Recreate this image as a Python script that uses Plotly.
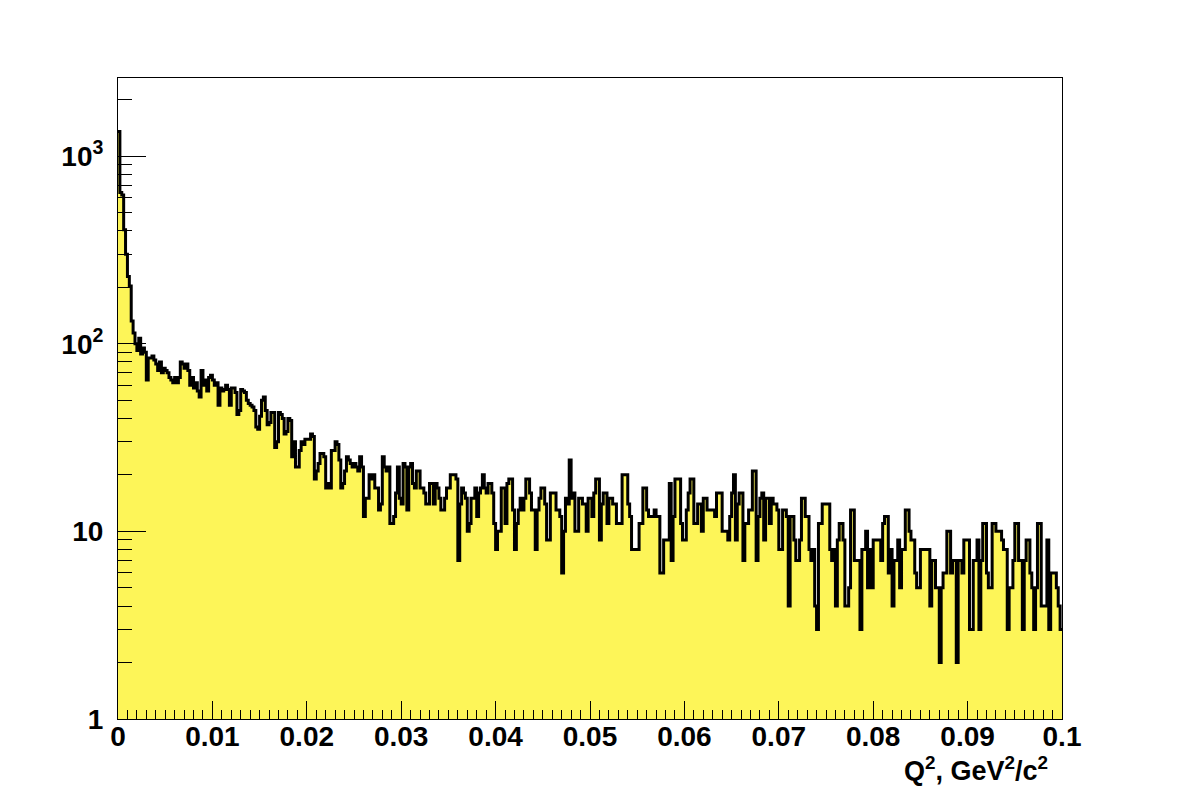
import numpy as np
import plotly.graph_objects as go

# ---------------- data ----------------
x_min = 0.0
x_max = 0.1
n_bins = 500

counts = [
    # 0.000 - 0.010
    1350, 640, 620, 405, 300, 228, 203, 132, 114, 100,
    92, 107, 88, 95, 90, 64, 84, 84, 86, 82,
    78, 72, 80, 70, 74, 72, 70, 66, 64, 62,
    66, 62, 66, 80, 78, 74, 78, 72, 60, 66,
    58, 62, 56, 52, 72, 60, 64, 56, 66, 68,
    # 0.010 - 0.020
    64, 60, 62, 47, 58, 56, 57, 60, 57, 47,
    58, 58, 55, 42, 44, 57, 56, 55, 50, 48,
    47, 46, 44, 36, 35, 41, 50, 52, 44, 37,
    38, 43, 43, 28, 30, 43, 42, 40, 33, 34,
    40, 39, 25, 30, 22, 22, 27, 30, 29, 31,
    # 0.020 - 0.030
    31, 31, 33, 32, 19, 21, 23, 26, 26, 25,
    17, 18, 17, 27, 27, 30, 29, 24, 17, 18,
    21, 25, 24, 23, 22, 23, 22, 21, 25, 22,
    12, 15, 15, 20, 19, 20, 17, 17, 13, 14,
    25, 22, 21, 22, 11, 11, 12, 16, 22, 15,
    # 0.030 - 0.040
    14, 23, 22, 13, 22, 23, 18, 17, 21, 21,
    17, 17, 16, 14, 14, 18, 18, 14, 18, 17,
    15, 13, 13, 15, 17, 17, 20, 20, 20, 19,
    7, 14, 17, 16, 15, 10, 11, 15, 15, 17,
    12, 16, 17, 20, 17, 16, 18, 18, 16, 11,
    # 0.040 - 0.050
    8, 10, 10, 17, 17, 11, 18, 19, 19, 13,
    8, 11, 13, 15, 13, 15, 19, 19, 16, 13,
    13, 8, 13, 15, 17, 17, 14, 9, 9, 16,
    16, 16, 13, 13, 12, 6, 10, 15, 14, 24,
    15, 16, 10, 10, 15, 15, 14, 14, 10, 15,
    # 0.050 - 0.060
    15, 12, 16, 19, 19, 9, 14, 16, 16, 11,
    15, 15, 14, 14, 11, 11, 11, 20, 20, 20,
    14, 12, 8, 8, 8, 8, 11, 11, 17, 17,
    13, 12, 12, 12, 13, 12, 12, 6, 6, 9,
    9, 9, 18, 7, 12, 19, 19, 19, 11, 9,
    # 0.060 - 0.070
    9, 13, 16, 19, 19, 11, 11, 14, 14, 10,
    15, 15, 13, 13, 13, 13, 12, 16, 16, 16,
    10, 10, 10, 9, 12, 16, 20, 9, 14, 16,
    16, 7, 11, 11, 13, 13, 21, 21, 7, 12,
    15, 16, 9, 15, 15, 11, 15, 14, 14, 13,
    # 0.070 - 0.080
    8, 8, 13, 13, 12, 4, 12, 12, 9, 7,
    7, 9, 15, 15, 12, 12, 8, 7, 8, 4,
    3, 11, 11, 14, 14, 14, 14, 8, 7, 8,
    4, 9, 11, 11, 9, 4, 4, 5, 13, 13,
    7, 7, 7, 3, 8, 8, 10, 5, 8, 5,
    # 0.080 - 0.090
    9, 9, 9, 9, 7, 11, 12, 12, 6, 8,
    4, 7, 7, 9, 5, 8, 8, 13, 13, 10,
    9, 9, 6, 5, 5, 8, 8, 8, 8, 8,
    4, 7, 7, 5, 5, 2, 5, 6, 6, 10,
    10, 6, 7, 7, 2, 7, 7, 6, 9, 9,
    # 0.090 - 0.100
    9, 3, 3, 7, 7, 9, 3, 7, 11, 11,
    6, 5, 5, 11, 11, 10, 10, 10, 9, 8,
    8, 3, 5, 5, 7, 11, 11, 7, 7, 3,
    7, 9, 9, 6, 5, 3, 5, 11, 11, 4,
    4, 4, 9, 3, 6, 6, 6, 5, 4, 3,
]

x_tick_vals = [0.0, 0.01, 0.02, 0.03, 0.04, 0.05, 0.06, 0.07, 0.08, 0.09, 0.1]
x_tick_text = ["0", "0.01", "0.02", "0.03", "0.04", "0.05", "0.06", "0.07", "0.08", "0.09", "0.1"]
y_tick_vals = [1, 10, 100, 1000]
y_tick_text = ["1", "10", "10<sup>2</sup>", "10<sup>3</sup>"]
y_minor_vals = [m * 10 ** e for e in range(0, 4) for m in range(2, 10) if m * 10 ** e < 2600]
x_title = "Q<sup>2</sup>, GeV<sup>2</sup>/c<sup>2</sup>"

# ---------------- figure ----------------
edges = np.linspace(x_min, x_max, n_bins + 1)
xs = list(edges)
ys = list(counts) + [counts[-1]]

FILL = "#FDF558"
FONT = "Liberation Sans, Arial, Helvetica, sans-serif"

fig = go.Figure()
fig.add_trace(go.Scatter(
    x=xs, y=ys, mode="lines", line_shape="hv",
    line=dict(color="black", width=3),
    fill="tozeroy", fillcolor=FILL,
    hoverinfo="skip", showlegend=False,
))

# page body has an 8px margin, so the figure is sized/offset to compensate
fig.update_layout(
    width=1174, height=792,
    margin=dict(l=110, r=120, t=70, b=81),
    paper_bgcolor="white", plot_bgcolor="white",
    showlegend=False,
    font=dict(family=FONT, color="black"),
)

fig.update_xaxes(
    range=[x_min, x_max],
    tickmode="array", tickvals=x_tick_vals, ticktext=x_tick_text,
    ticks="inside", ticklen=18, tickwidth=1, tickcolor="black",
    tickfont=dict(family=FONT, size=28, color="black", weight="bold"),
    ticklabelstandoff=-8,
    minor=dict(ticks="inside", dtick=0.001, tick0=0, ticklen=9, tickwidth=1, tickcolor="black", showgrid=False),
    showline=True, linecolor="black", linewidth=1, mirror=True,
    showgrid=False, zeroline=False,
)

fig.update_yaxes(
    type="log", range=[0, 3.416],
    tickmode="array", tickvals=y_tick_vals, ticktext=y_tick_text,
    ticks="inside", ticklen=28, tickwidth=1, tickcolor="black",
    tickfont=dict(family=FONT, size=28, color="black", weight="bold"),
    ticklabelstandoff=8,
    minor=dict(ticks="inside", tickmode="array", tickvals=y_minor_vals, ticklen=14, tickwidth=1, tickcolor="black", showgrid=False),
    showline=True, linecolor="black", linewidth=1, mirror=True,
    showgrid=False, zeroline=False,
)

fig.add_annotation(
    text=x_title, xref="paper", yref="paper",
    x=1.0, y=-0.108, xanchor="right", yanchor="bottom",
    xshift=-12,
    showarrow=False,
    font=dict(family=FONT, size=27, color="black", weight="bold"),
)

fig.write_html("out.html")
